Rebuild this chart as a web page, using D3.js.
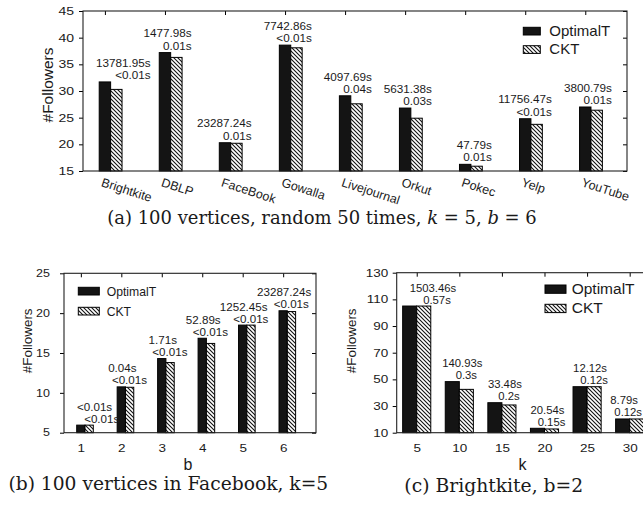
<!DOCTYPE html>
<html>
<head>
<meta charset="utf-8">
<script src="https://cdn.jsdelivr.net/npm/d3@7"></script>
<style>
  body { margin: 0; background: #fff; }
  svg { display: block; }
  text { fill: #1a1a1a; }
  .sans { font-family: "Liberation Sans", Arial, Helvetica, sans-serif; }
  .serif { font-family: "DejaVu Serif", "Liberation Serif", serif; }
</style>
</head>
<body>
<div id="chart"></div>
<script>
// (a) 100 vertices, random 50 times
const datasetsA = ["Brightkite", "DBLP", "FaceBook", "Gowalla", "Livejournal", "Orkut", "Pokec", "Yelp", "YouTube"]
const optimalA = [31.7, 37.2, 20.3, 38.6, 29.1, 26.8, 16.25, 24.8, 27.0]
const cktA = [30.3, 36.3, 20.2, 38.1, 27.6, 24.9, 15.9, 23.75, 26.4]
const timeOptA = ["13781.95s", "1477.98s", "23287.24s", "7742.86s", "4097.69s", "5631.38s", "47.79s", "11756.47s", "3800.79s"]
const timeCktA = ["<0.01s", "0.01s", "0.01s", "<0.01s", "0.04s", "0.03s", "0.01s", "<0.01s", "0.01s"]
const ticksA = [15, 20, 25, 30, 35, 40, 45]

// (b) 100 vertices in Facebook, k=5
const budgetsB = ["1", "2", "3", "4", "5", "6"]
const optimalB = [5.95, 10.75, 14.3, 16.85, 18.5, 20.3]
const cktB = [5.95, 10.7, 13.8, 16.2, 18.5, 20.2]
const timeOptB = ["<0.01s", "0.04s", "1.71s", "52.89s", "1252.45s", "23287.24s"]
const timeCktB = ["<0.01s", "<0.01s", "<0.01s", "<0.01s", "<0.01s", "<0.01s"]
const ticksB = [5, 10, 15, 20, 25]

// (c) Brightkite, b=2
const kValuesC = ["5", "10", "15", "20", "25", "30"]
const optimalC = [105, 48.3, 32.5, 13.3, 44.5, 20.3]
const cktC = [105, 42.5, 30.8, 12.8, 44.5, 20.3]
const timeOptC = ["1503.46s", "140.93s", "33.48s", "20.54s", "12.12s", "8.79s"]
const timeCktC = ["0.57s", "0.3s", "0.2s", "0.15s", "0.12s", "0.12s"]
const ticksC = [10, 30, 50, 70, 90, 110, 130]

const seriesNames = ["OptimalT", "CKT"]

const WIDTH = 643
const HEIGHT = 509

const svg = d3.select("#chart")
  .append("svg")
  .attr("width", WIDTH)
  .attr("height", HEIGHT)
  .attr("class", "sans")

// patron rayado de CKT
const pat = svg.append("defs").append("pattern")
  .attr("id", "hatch")
  .attr("patternUnits", "userSpaceOnUse")
  .attr("width", 4)
  .attr("height", 4)
pat.append("rect").attr("width", 4).attr("height", 4).attr("fill", "#fff")
pat.append("path")
  .attr("d", "M-1,-1L5,5M-1,3L1,5M3,-1L5,1")
  .attr("stroke", "#111")
  .attr("stroke-width", 1.1)

const drawPanel = (p) => {
  const g = svg.append("g")
  const x = d3.scaleLinear().domain(p.xDomain).range([p.left, p.right])
  const y = d3.scaleLinear().domain(p.yDomain).range([p.bottom, p.top])
  const bw = x(p.barWidth) - x(0)
  const idx = d3.range(p.cats.length)
  const tickPos = idx.map(i => p.tickAt === "black" ? i - p.barWidth / 2 : i)

  // ticks
  g.append("g")
    .attr("transform", `translate(${p.left},0)`)
    .call(d3.axisLeft(y).tickValues(p.yTicks).tickSize(4).tickPadding(p.yPad))
    .call(a => a.select(".domain").remove())
    .call(a => a.selectAll("text")
      .attr("class", "sans")
      .attr("font-size", p.tickFont)
      .attr("fill", "#1a1a1a")
      .attr("transform", `scale(1,${p.tickFlat})`))
  g.append("g")
    .attr("transform", `translate(${p.right},0)`)
    .call(d3.axisLeft(y).tickValues(p.yTicks).tickSize(4).tickFormat(""))
    .call(a => a.select(".domain").remove())
  g.append("g")
    .attr("transform", `translate(0,${p.top})`)
    .call(d3.axisBottom(x).tickValues(tickPos).tickSize(4).tickFormat(""))
    .call(a => a.select(".domain").remove())
  g.append("g")
    .attr("transform", `translate(0,${p.bottom})`)
    .call(d3.axisTop(x).tickValues(tickPos).tickSize(4).tickFormat(""))
    .call(a => a.select(".domain").remove())

  // etiquetas del eje x
  const xLab = g.append("g")
    .attr("transform", `translate(0,${p.bottom})`)
    .call(d3.axisBottom(x).tickValues(tickPos).tickSize(0).tickFormat((d, i) => p.cats[i]))
    .call(a => a.select(".domain").remove())
  xLab.selectAll("text")
    .attr("class", "sans")
    .attr("font-size", p.xTickFont)
    .attr("fill", "#1a1a1a")
  if (p.rotate) {
    xLab.selectAll("text")
      .attr("x", 0)
      .attr("y", 0)
      .attr("dy", "0.75em")
      .attr("text-anchor", "start")
      .attr("transform", `translate(-2,6) rotate(${p.rotate})`)
  } else {
    xLab.selectAll("text")
      .attr("y", p.xTickBase / p.xTickFlat)
      .attr("dy", 0)
      .attr("transform", `scale(1,${p.xTickFlat})`)
  }

  // barras
  g.selectAll(".bar-opt")
    .data(idx)
    .join("rect")
    .attr("class", "bar-opt")
    .attr("x", i => x(i) - bw)
    .attr("y", i => y(p.opt[i]))
    .attr("width", bw)
    .attr("height", i => y(p.yDomain[0]) - y(p.opt[i]))
    .attr("fill", "#141414")
    .attr("stroke", "#000")
    .attr("stroke-width", 1)
  g.selectAll(".bar-ckt")
    .data(idx)
    .join("rect")
    .attr("class", "bar-ckt")
    .attr("x", i => x(i))
    .attr("y", i => y(p.ckt[i]))
    .attr("width", bw)
    .attr("height", i => y(p.yDomain[0]) - y(p.ckt[i]))
    .attr("fill", "url(#hatch)")
    .attr("stroke", "#000")
    .attr("stroke-width", 1)

  // tiempos (dos lineas por grupo), se mantienen dentro del marco
  idx.forEach(i => {
    const y2 = y(p.opt[i]) - p.gap
    const t1 = g.append("text").attr("y", y2 - p.lineGap).attr("font-size", p.labelFont).text(p.tOpt[i])
    const t2 = g.append("text").attr("y", y2).attr("font-size", p.labelFont).text(p.tCkt[i])
    const w1 = t1.node().getComputedTextLength()
    const w2 = t2.node().getComputedTextLength()
    let l1, l2
    if (p.align === "end") {
      l1 = x(i) + p.endDx - w1
      l2 = x(i) + p.endDx - w2
    } else {
      l1 = x(i) - bw / 2 + p.l1dx - w1 / 2
      l2 = x(i) + p.l2dx - w2 / 2
    }
    let shift = 0
    const minL = Math.min(l1, l2)
    const maxR = Math.max(l1 + w1, l2 + w2)
    if (minL < p.left + 13) shift = p.left + 13 - minL
    if (maxR + shift > WIDTH - 1) shift = WIDTH - 1 - maxR
    t1.attr("x", l1 + shift)
    t2.attr("x", l2 + shift)
  })

  // marco
  g.append("rect")
    .attr("x", p.left)
    .attr("y", p.top)
    .attr("width", p.right - p.left)
    .attr("height", p.bottom - p.top)
    .attr("fill", "none")
    .attr("stroke", "#222")
    .attr("stroke-width", 1.1)

  // leyenda
  const lg = p.legend
  seriesNames.forEach((name, k) => {
    g.append("rect")
      .attr("x", lg.x)
      .attr("y", lg.y + k * lg.step)
      .attr("width", lg.w)
      .attr("height", lg.h)
      .attr("fill", k === 0 ? "#141414" : "url(#hatch)")
      .attr("stroke", "#000")
    g.append("text")
      .attr("x", lg.tx)
      .attr("y", lg.y + k * lg.step + lg.h + 0.5)
      .attr("font-size", lg.font)
      .text(name)
  })

  // titulos de ejes
  g.append("text")
    .attr("transform", `translate(${p.ylabel.x},${p.ylabel.y}) rotate(-90)`)
    .attr("text-anchor", "middle")
    .attr("font-size", p.ylabel.font)
    .text("#Followers")
  if (p.xlabel) {
    g.append("text")
      .attr("x", p.xlabel.x)
      .attr("y", p.xlabel.y)
      .attr("text-anchor", "middle")
      .attr("font-size", p.xlabel.font)
      .text(p.xlabel.text)
  }

  // pie de figura: se ajusta el tamaño para llegar al ancho medido
  const cap = g.append("text")
    .attr("class", "serif")
    .attr("x", p.caption.x)
    .attr("y", p.caption.y)
    .attr("text-anchor", "middle")
    .attr("font-size", 20)
  p.caption.parts.forEach(([t, it]) => {
    cap.append("tspan").attr("font-style", it ? "italic" : null).text(t)
  })
  const cw = cap.node().getComputedTextLength()
  cap.attr("font-size", 20 * p.caption.width / cw)
}

drawPanel({
  left: 83, top: 11, right: 627, bottom: 171,
  xDomain: [-0.46, 8.6], yDomain: [15, 45], yTicks: ticksA, barWidth: 0.19,
  cats: datasetsA, opt: optimalA, ckt: cktA, tOpt: timeOptA, tCkt: timeCktA,
  tickAt: "black", tickFont: 14, tickFlat: 0.78, yPad: 5,
  rotate: 18, xTickFont: 12.5,
  labelFont: 11.7, align: "end", endDx: 21, gap: 3, lineGap: 12.3,
  legend: { x: 523.3, y: 27.3, w: 17, h: 7.7, step: 18.4, tx: 549.3, font: 15 },
  ylabel: { x: 53.3, y: 85, font: 15.5 },
  caption: { x: 322, y: 224, width: 430,
    parts: [["(a) 100 vertices, random 50 times, ", false], ["k", true], [" = 5, ", false], ["b", true], [" = 6", false]] }
})

drawPanel({
  left: 64, top: 273.3, right: 316, bottom: 432.7,
  xDomain: [-0.519, 5.709], yDomain: [5, 25], yTicks: ticksB, barWidth: 0.205,
  cats: budgetsB, opt: optimalB, ckt: cktB, tOpt: timeOptB, tCkt: timeCktB,
  tickAt: "black", tickFont: 12.5, tickFlat: 0.82, yPad: 10,
  xTickFont: 13.5, xTickFlat: 0.85, xTickBase: 19,
  labelFont: 11.6, l1dx: 1, l2dx: 4, gap: 2.5, lineGap: 12,
  legend: { x: 78.3, y: 287.3, w: 21, h: 7.7, step: 20, tx: 106.7, font: 12.2 },
  ylabel: { x: 31.7, y: 340.8, font: 13.4 },
  xlabel: { text: "b", x: 188, y: 470, font: 16 },
  caption: { x: 168.3, y: 489.5, width: 320,
    parts: [["(b) 100 vertices in Facebook, k=5", false]] }
})

drawPanel({
  left: 396.7, top: 272.7, right: 648.3, bottom: 432.7,
  xDomain: [-0.47, 5.437], yDomain: [10, 130], yTicks: ticksC, barWidth: 0.33,
  cats: kValuesC, opt: optimalC, ckt: cktC, tOpt: timeOptC, tCkt: timeCktC,
  tickAt: "pair", tickFont: 13.5, tickFlat: 0.78, yPad: 4.4,
  xTickFont: 13.5, xTickFlat: 0.85, xTickBase: 19,
  labelFont: 11.3, l1dx: 10, l2dx: 7, gap: 2.5, lineGap: 12,
  legend: { x: 545, y: 285, w: 21, h: 8.3, step: 19.3, tx: 571.7, font: 15.5 },
  ylabel: { x: 356, y: 340.8, font: 13.4 },
  xlabel: { text: "k", x: 522.5, y: 470, font: 16 },
  caption: { x: 493.8, y: 492, width: 179,
    parts: [["(c) Brightkite, b=2", false]] }
})
</script>
</body>
</html>
